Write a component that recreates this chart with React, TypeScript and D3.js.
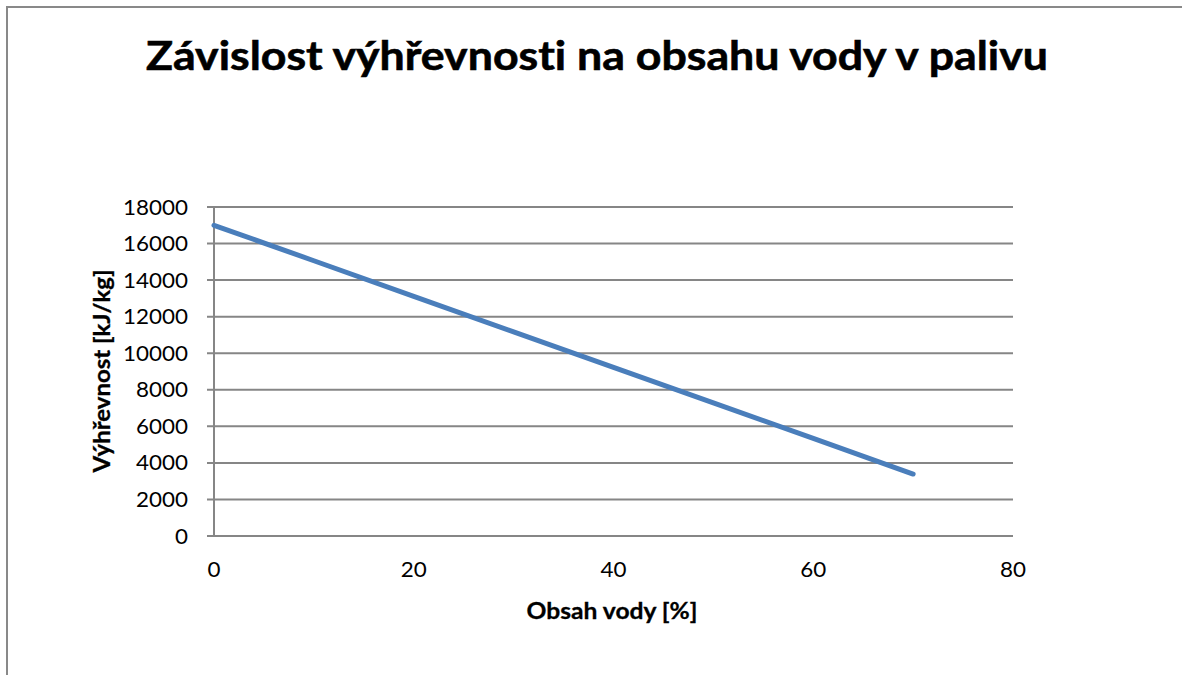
import React from "react";
import * as d3 from "d3";

const titleText = "Závislost výhřevnosti na obsahu vody v palivu";
const xAxisTitle = "Obsah vody [%]";
const yAxisTitle = "Výhřevnost [kJ/kg]";
const waterContent = [0, 10, 20, 30, 40, 50, 60, 70];
const heatingValue = [17000, 15060, 13110, 11170, 9220, 7280, 5340, 3390];
const xTicks = [0, 20, 40, 60, 80];
const yTicks = [0, 2000, 4000, 6000, 8000, 10000, 12000, 14000, 16000, 18000];

const W = 1182;
const H = 675;
const plot = { left: 214, right: 1013, top: 207, bottom: 536 };
const FONT = "Lato, 'Open Sans', sans-serif";

export default function App() {
  const x = d3.scaleLinear().domain([0, 80]).range([plot.left, plot.right]);
  const y = d3.scaleLinear().domain([0, 18000]).range([plot.bottom, plot.top]);
  const pts: [number, number][] = waterContent.map((w, i) => [w, heatingValue[i]]);
  const line = d3
    .line<[number, number]>()
    .x((d) => x(d[0]))
    .y((d) => y(d[1]));

  return (
    <svg
      width={W}
      height={H}
      style={{ position: "absolute", left: 0, top: 0, background: "#fff", fontVariantLigatures: "none" }}
      fontFamily={FONT}
    >
      <rect x={0} y={0} width={W} height={H} fill="#fff" />
      <rect x={7} y={7} width={1250} height={750} fill="none" stroke="#898989" strokeWidth={2} />
      <text
        x={597}
        y={70}
        textAnchor="middle"
        fontSize={40}
        fontWeight="bold"
        fill="#000"
        stroke="#000"
        strokeWidth={0.6}
        textLength={902}
        lengthAdjust="spacingAndGlyphs"
      >
        {titleText}
      </text>
      {yTicks.map((t) => (
        <g key={"y" + t}>
          <line
            x1={plot.left - 7}
            x2={plot.right}
            y1={y(t)}
            y2={y(t)}
            stroke="#868686"
            strokeWidth={2}
          />
          <text x={188} y={y(t) + 7.5} textAnchor="end" fontSize={22} fill="#000" textLength={String(t).length * 13} lengthAdjust="spacingAndGlyphs">
            {t}
          </text>
        </g>
      ))}
      <line x1={plot.left} x2={plot.left} y1={plot.top} y2={plot.bottom + 1} stroke="#868686" strokeWidth={2} />
      {xTicks.map((t) => (
        <text key={"x" + t} x={x(t)} y={577} textAnchor="middle" fontSize={22} fill="#000" textLength={String(t).length * 13} lengthAdjust="spacingAndGlyphs">
          {t}
        </text>
      ))}
      <path d={line(pts) || ""} fill="none" stroke="#4a7ebb" strokeWidth={5} strokeLinecap="round" strokeLinejoin="round" />
      <text
        x={612}
        y={619}
        textAnchor="middle"
        fontSize={22}
        fontWeight="bold"
        fill="#000"
        stroke="#000"
        strokeWidth={0.3}
        textLength={171}
        lengthAdjust="spacingAndGlyphs"
      >
        {xAxisTitle}
      </text>
      <text
        transform={`translate(110, 371) rotate(-90)`}
        textAnchor="middle"
        fontSize={22}
        fontWeight="bold"
        fill="#000"
        stroke="#000"
        strokeWidth={0.3}
        textLength={203}
        lengthAdjust="spacingAndGlyphs"
      >
        {yAxisTitle}
      </text>
    </svg>
  );
}
